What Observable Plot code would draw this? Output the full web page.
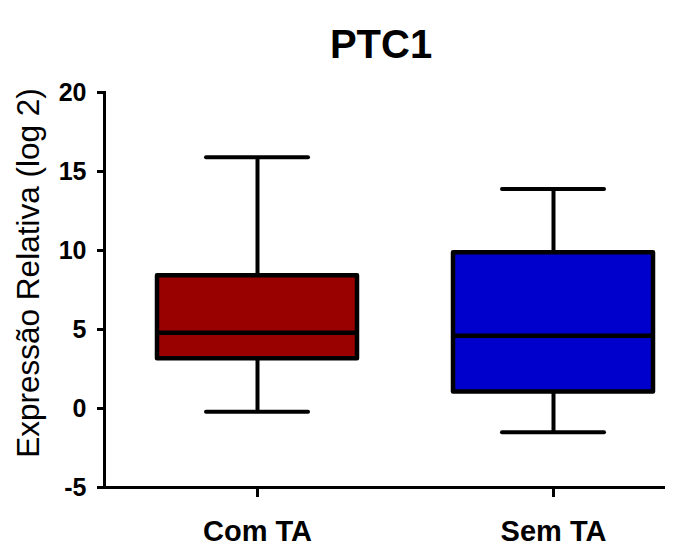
<!DOCTYPE html>
<html>
<head>
<meta charset="utf-8">
<script src="https://cdn.jsdelivr.net/npm/d3@7"></script>
<script src="https://cdn.jsdelivr.net/npm/@observablehq/plot@0.6"></script>
<style>
  body { margin: 0; background: #fff; }
  #chart svg { font-family: "Liberation Sans", Arial, sans-serif; }
</style>
</head>
<body>
<div id="chart"></div>
<script>
const categories = ["Com TA", "Sem TA"];
const whiskerLow = [-0.2, -1.5];
const q1 = [3.15, 1.05];
const median = [4.8, 4.6];
const q3 = [8.4, 9.85];
const whiskerHigh = [15.9, 13.9];
const colors = ["#990000", "#0000cc"];
const yTicks = [-5, 0, 5, 10, 15, 20];

const data = categories.map((c, i) => ({
  cat: c, lo: whiskerLow[i], q1: q1[i], med: median[i], q3: q3[i], hi: whiskerHigh[i], color: colors[i]
}));

const plot = Plot.plot({
  width: 694,
  height: 552,
  marginTop: 92,
  marginBottom: 65,
  marginLeft: 104,
  marginRight: 29,
  style: { fontFamily: "Liberation Sans, Arial, sans-serif", background: "#fff" },
  x: { type: "band", domain: categories, range: [109, 701], paddingInner: 0.324, paddingOuter: 0.162 },
  y: { domain: [-5, 20] },
  marks: [
    Plot.ruleX(data, { x: "cat", y1: "lo", y2: "q1", stroke: "#000", strokeWidth: 4 }),
    Plot.ruleX(data, { x: "cat", y1: "q3", y2: "hi", stroke: "#000", strokeWidth: 4 }),
    Plot.tickY(data, { x: "cat", y: "lo", stroke: "#000", strokeWidth: 4, insetLeft: 49, insetRight: 49, strokeLinecap: "round" }),
    Plot.tickY(data, { x: "cat", y: "hi", stroke: "#000", strokeWidth: 4, insetLeft: 49, insetRight: 49, strokeLinecap: "round" }),
    Plot.barY(data, { x: "cat", y1: "q1", y2: "q3", fill: "color", stroke: "#000", strokeWidth: 4.5, strokeLinejoin: "round" }),
    Plot.tickY(data, { x: "cat", y: "med", stroke: "#000", strokeWidth: 4.5 }),
    Plot.ruleY([-5], { stroke: "#000", strokeWidth: 3 }),
    Plot.frame({ anchor: "left", stroke: "#000", strokeWidth: 3 }),
    Plot.axisY({ ticks: yTicks, tickFormat: d => String(d), tickSize: 7, tickPadding: 11, strokeWidth: 3, stroke: "#000", fontSize: 25, fontWeight: "bold", fill: "#000", label: null }),
    Plot.axisX({ tickSize: 10, tickPadding: 23, strokeWidth: 3, stroke: "#000", fontSize: 29, fontWeight: "bold", fill: "#000", label: null }),
    Plot.text(["Expressão Relativa (log 2)"], { frameAnchor: "left", textAnchor: "middle", dx: -76, dy: -17, rotate: -90, fontSize: 31.5, fill: "#000" }),
    Plot.text(["PTC1"], { frameAnchor: "top", dy: -63, dx: -4, fontSize: 40, fontWeight: "bold", fill: "#000" })
  ]
});
document.getElementById("chart").appendChild(plot);
</script>
</body>
</html>
